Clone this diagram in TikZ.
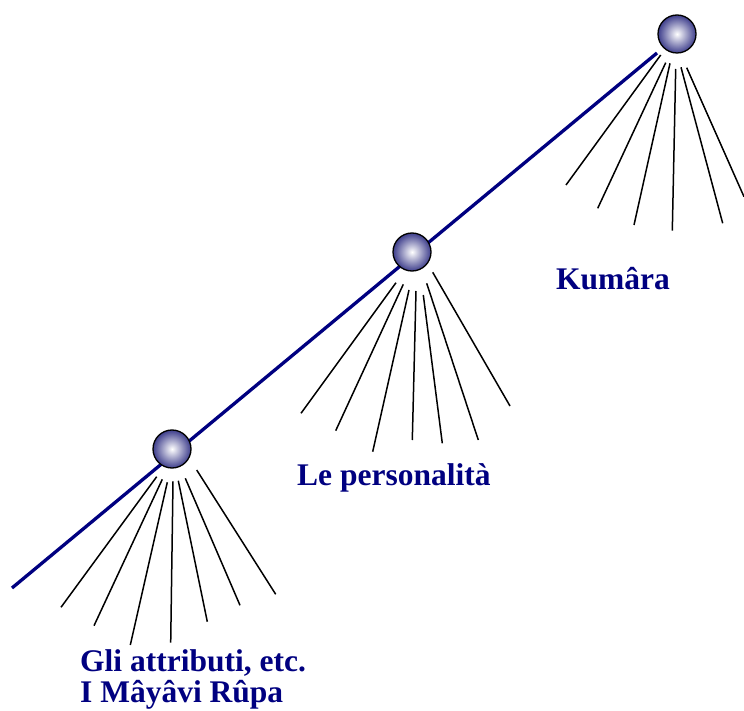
\documentclass[tikz,border=0pt]{standalone}
\usepackage{fontspec}
\setmainfont{Liberation Serif}
\definecolor{navy}{RGB}{0,0,128}
\definecolor{ballrim}{RGB}{62,62,140}
\begin{document}
\begin{tikzpicture}[x=1pt,y=-1pt,
  ballnode/.style={circle,draw=black,line width=1.3pt,minimum size=38pt,inner sep=0pt,
    inner color=white,outer color=ballrim},
  axis/.style={draw=navy,line width=3.3pt},
  ray/.style={draw=black,line width=1.5pt},
  lbl/.style={anchor=base west,inner sep=0pt,text=navy,font=\fontsize{31.5}{31}\selectfont\bfseries}]
\useasboundingbox (0,0) rectangle (744,711);
% axis
\coordinate (a0) at (12,588);
\coordinate (a1) at (657,53);
\draw[axis] (a0) -- (a1);
% balls
\node[ballnode] (top) at (677,34) {};
\node[ballnode] (mid) at (412,252) {};
\node[ballnode] (bot) at (172,449) {};
% top rays
\foreach \i/\sx/\sy/\ex/\ey in {1/660.7/55/566/185, 2/665.7/62.7/597.7/208.3, 3/670/63.3/634/225,
  4/675.7/69/672.3/230.7, 5/681/67.3/722.7/223.3, 6/686.7/67.7/744/196.7}{
  \coordinate (ts\i) at (\sx,\sy);
  \coordinate (te\i) at (\ex,\ey);
  \draw[ray] (ts\i) -- (te\i);
}
% middle rays
\foreach \i/\sx/\sy/\ex/\ey in {1/396/282.7/301/413.3, 2/403.3/284.3/335.7/430.7, 3/409/290/372.7/451.7,
  4/416/291/412.3/440, 5/423.3/295/442.3/443.3, 6/426.7/283.3/478.3/440, 7/432.7/272.3/510/406}{
  \coordinate (ms\i) at (\sx,\sy);
  \coordinate (me\i) at (\ex,\ey);
  \draw[ray] (ms\i) -- (me\i);
}
% bottom rays
\foreach \i/\sx/\sy/\ex/\ey in {1/156.7/476.7/61/607.3, 2/162.3/479.3/94/625.7, 3/167.3/482.3/130.3/645,
  4/173/481.3/170.7/642.7, 5/178.3/480.7/207.3/621.7, 6/185.3/478.3/240/605.3, 7/196.7/470/275.7/594.3}{
  \coordinate (bs\i) at (\sx,\sy);
  \coordinate (be\i) at (\ex,\ey);
  \draw[ray] (bs\i) -- (be\i);
}
% labels
\node[lbl] (kum) at (556,290) {Kumâra};
\node[lbl] (pers) at (297,485) {Le personalità};
\node[lbl,anchor=north west,align=left] (attr) at (80,649) {Gli attributi, etc.\\I Mâyâvi Rûpa};
\end{tikzpicture}
\end{document}
